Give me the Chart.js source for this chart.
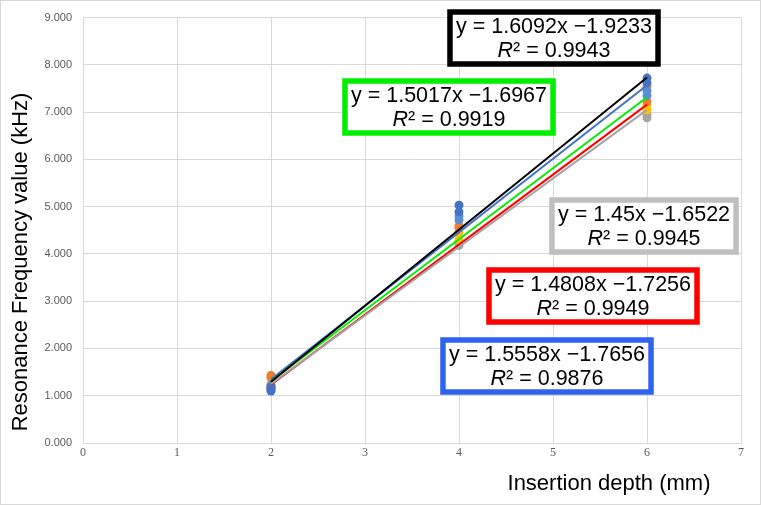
<!DOCTYPE html>
<html>
<head>
<meta charset="utf-8">
<script src="https://cdn.jsdelivr.net/npm/chart.js@4/dist/chart.umd.min.js"></script>
<style>
html, body { margin: 0; padding: 0; background: #fff; }
</style>
</head>
<body>
<canvas id="chart" width="761" height="505"></canvas>
<script>
// measured depth for every sample (mm)
var DEPTH = [2, 2, 4, 4, 6, 6];

// resonance frequency (kHz) for each specimen group
var BLUE_A = [1.10, 1.18, 5.03, 4.89, 7.72, 7.62];
var ORANGE = [1.43, 1.38, 4.60, 4.55, 7.55, 7.22];
var GRAY   = [1.12, 1.15, 4.18, 4.25, 6.88, 6.95];
var GOLD   = [1.20, 1.24, 4.45, 4.30, 7.05, 7.15];
var BLUE_B = [1.15, 1.22, 4.80, 4.72, 7.45, 7.35];

// excel trendlines, as printed on the chart
var FIT_SLOPE = [1.6092, 1.5017, 1.45, 1.4808, 1.5558];
var FIT_INTERCEPT = [-1.9233, -1.6967, -1.6522, -1.7256, -1.7656];
var FIT_R2 = ["0.9943", "0.9919", "0.9945", "0.9949", "0.9876"];
var FIT_RANGE = [2, 6];

var Y_TICKS = [0, 1, 2, 3, 4, 5, 6, 7, 8, 9];
var X_TICKS = [0, 1, 2, 3, 4, 5, 6, 7];

var BLUE = "#4472C4";
var LIGHT_BLUE = "#5B8FD5";
var ORANGE_C = "#ED7D31";
var GRAY_C = "#A5A5A5";
var GOLD_C = "#FFC000";

var FIT_COLORS = ["#000000", "#00EE00", "#A5A5A5", "#FF0000", "#4472C4"];
var BOX_COLORS = ["#000000", "#00EE00", "#BFBFBF", "#FF0000", "#2F63EE"];
// label boxes: centre x, centre y (px)
var BOXES = [[554, 38], [449, 107], [644, 226], [593, 296], [547, 366]];

function points(vals) {
  return vals.map(function (v, i) { return { x: DEPTH[i], y: v }; });
}

function fitLine(k) {
  return FIT_RANGE.map(function (x) {
    return { x: x, y: FIT_SLOPE[k] * x + FIT_INTERCEPT[k] };
  });
}

var datasets = [];
// trendlines first so they sit on top of the dots
for (var k = 0; k < FIT_SLOPE.length; k++) {
  datasets.push({
    type: "line",
    data: fitLine(k),
    borderColor: FIT_COLORS[k],
    borderWidth: 2,
    pointRadius: 0,
    fill: false
  });
}
var groups = [[BLUE_A, BLUE], [BLUE_B, LIGHT_BLUE], [ORANGE, ORANGE_C], [GOLD, GOLD_C], [GRAY, GRAY_C]];
groups.forEach(function (g) {
  datasets.push({
    type: "scatter",
    data: points(g[0]),
    backgroundColor: g[1],
    borderWidth: 0,
    pointRadius: 4.5
  });
});

var extras = {
  id: "extras",
  afterDraw: function (chart) {
    var ctx = chart.ctx;
    ctx.save();
    // outer frame
    ctx.strokeStyle = "#D9D9D9";
    ctx.lineWidth = 1;
    ctx.strokeRect(0.5, 0.5, chart.width - 1, chart.height - 1);

    // axis titles
    ctx.fillStyle = "#000";
    ctx.font = "22px 'Liberation Sans', Arial, sans-serif";
    ctx.textAlign = "center";
    ctx.textBaseline = "middle";
    ctx.fillText("Insertion depth (mm)", 609, 484);
    ctx.save();
    ctx.translate(21, 262);
    ctx.rotate(-Math.PI / 2);
    ctx.fillText("Resonance Frequency value (kHz)", 0, 0);
    ctx.restore();

    // equation boxes
    var font = "21.5px 'Liberation Sans', Arial, sans-serif";
    var ital = "italic 21.5px 'Liberation Sans', Arial, sans-serif";
    for (var i = 0; i < BOXES.length; i++) {
      var cx = BOXES[i][0], cy = BOXES[i][1];
      var line1 = "y = " + FIT_SLOPE[i] + "x \u2212" + Math.abs(FIT_INTERCEPT[i]).toFixed(4);
      ctx.font = font;
      var w = ctx.measureText(line1).width + 12, h = 52;
      ctx.fillStyle = "#fff";
      ctx.fillRect(cx - w / 2, cy - h / 2, w, h);
      ctx.strokeStyle = BOX_COLORS[i];
      ctx.lineWidth = 5.5;
      ctx.strokeRect(cx - w / 2, cy - h / 2, w, h);

      ctx.fillStyle = "#000";
      ctx.textAlign = "center";
      ctx.textBaseline = "middle";
      ctx.fillText(line1, cx, cy - 11);

      var rest = "\u00B2 = " + FIT_R2[i];
      ctx.font = ital;
      var wr = ctx.measureText("R").width;
      ctx.font = font;
      var wt = ctx.measureText(rest).width;
      var x0 = cx - (wr + wt) / 2;
      ctx.textAlign = "left";
      ctx.font = ital;
      ctx.fillText("R", x0, cy + 13);
      ctx.font = font;
      ctx.fillText(rest, x0 + wr, cy + 13);
    }
    ctx.restore();
  }
};

var ctx = document.getElementById("chart").getContext("2d");
var chart = new Chart(ctx, {
  type: "scatter",
  data: { datasets: datasets },
  options: {
    responsive: false,
    animation: false,
    layout: { padding: { left: 0, right: 20, top: 14, bottom: 0 } },
    plugins: { legend: { display: false }, tooltip: { enabled: false } },
    scales: {
      x: {
        type: "linear",
        min: 0,
        max: 7,
        afterBuildTicks: function (s) { s.ticks = X_TICKS.map(function (v) { return { value: v }; }); },
        afterFit: function (s) { s.height = 62; },
        grid: { color: "#D9D9D9", drawTicks: false },
        border: { color: "#D9D9D9" },
        ticks: {
          padding: 3,
          color: "#595959",
          font: { family: "'Liberation Serif', serif", size: 12 }
        }
      },
      y: {
        min: 0,
        max: 9,
        afterBuildTicks: function (s) { s.ticks = Y_TICKS.map(function (v) { return { value: v }; }); },
        afterFit: function (s) { s.width = 83; },
        grid: { color: "#D9D9D9", drawTicks: false },
        border: { color: "#D9D9D9" },
        ticks: {
          padding: 11,
          color: "#595959",
          font: { family: "'Liberation Sans', Arial, sans-serif", size: 11 },
          callback: function (v) { return v.toFixed(3); }
        }
      }
    }
  },
  plugins: [extras]
});
</script>
</body>
</html>
